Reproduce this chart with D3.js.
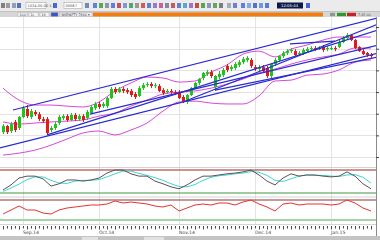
<!DOCTYPE html>
<html>
<head>
<meta charset="utf-8">
<title>chart</title>
<script src="https://d3js.org/d3.v7.min.js"></script>
<style>
  body { margin: 0; background: #fff; }
  svg { display: block; font-family: "DejaVu Sans", sans-serif; }
</style>
</head>
<body>
<div id="chart"></div>
<script>
// daily candles (price)
const opens = [
  7515, 7543, 7520, 7562, 7534, 7585, 7622, 7585, 7608, 7598,
  7575, 7575, 7525, 7534, 7557, 7580, 7589, 7571, 7594, 7575,
  7589, 7580, 7603, 7626, 7645, 7635, 7635, 7672, 7714, 7700,
  7714, 7709, 7705, 7691, 7682, 7718, 7732, 7737, 7728, 7728,
  7709, 7700, 7705, 7700, 7700, 7677, 7654, 7686, 7718, 7742,
  7765, 7783, 7792, 7723, 7769, 7778, 7820, 7806, 7811, 7825,
  7838, 7848, 7848, 7815, 7806, 7815, 7811, 7774, 7829, 7848,
  7866, 7880, 7889, 7889, 7875, 7880, 7889, 7898, 7903, 7898,
  7908, 7898, 7898, 7903, 7908, 7931, 7949, 7963, 7940, 7908,
  7889, 7880, 7871]
const highs = [
  7552, 7548, 7562, 7571, 7589, 7635, 7640, 7622, 7617, 7608,
  7585, 7585, 7543, 7562, 7594, 7598, 7598, 7603, 7603, 7598,
  7598, 7617, 7640, 7654, 7654, 7654, 7677, 7723, 7723, 7723,
  7723, 7718, 7714, 7700, 7728, 7742, 7746, 7746, 7742, 7737,
  7718, 7714, 7714, 7709, 7709, 7686, 7691, 7723, 7746, 7765,
  7792, 7802, 7802, 7778, 7797, 7811, 7829, 7825, 7838, 7848,
  7862, 7866, 7857, 7825, 7825, 7825, 7820, 7834, 7857, 7871,
  7889, 7898, 7903, 7898, 7889, 7903, 7908, 7912, 7912, 7912,
  7917, 7912, 7912, 7912, 7940, 7958, 7972, 7968, 7945, 7912,
  7898, 7885, 7880]
const lows = [
  7506, 7506, 7511, 7515, 7525, 7580, 7580, 7575, 7589, 7566,
  7557, 7502, 7515, 7525, 7548, 7571, 7562, 7566, 7566, 7566,
  7562, 7571, 7598, 7617, 7622, 7626, 7626, 7668, 7691, 7695,
  7695, 7691, 7677, 7668, 7677, 7709, 7723, 7718, 7718, 7700,
  7686, 7691, 7691, 7686, 7668, 7649, 7645, 7682, 7714, 7732,
  7755, 7774, 7765, 7705, 7760, 7769, 7792, 7797, 7802, 7815,
  7829, 7838, 7811, 7797, 7797, 7788, 7765, 7765, 7820, 7838,
  7857, 7871, 7880, 7866, 7866, 7871, 7880, 7889, 7889, 7894,
  7885, 7889, 7894, 7889, 7903, 7926, 7940, 7935, 7898, 7885,
  7871, 7862, 7857]
const closes = [
  7543, 7515, 7552, 7525, 7585, 7626, 7589, 7612, 7598, 7575,
  7566, 7511, 7534, 7552, 7585, 7589, 7571, 7594, 7575, 7589,
  7571, 7608, 7631, 7645, 7631, 7645, 7672, 7714, 7700, 7714,
  7705, 7700, 7686, 7677, 7718, 7732, 7737, 7728, 7732, 7705,
  7695, 7705, 7700, 7695, 7672, 7658, 7686, 7718, 7742, 7760,
  7788, 7792, 7774, 7774, 7783, 7802, 7802, 7815, 7829, 7838,
  7852, 7857, 7820, 7806, 7815, 7797, 7774, 7829, 7848, 7866,
  7880, 7889, 7894, 7871, 7880, 7894, 7898, 7903, 7898, 7903,
  7894, 7903, 7903, 7898, 7931, 7949, 7963, 7940, 7903, 7889,
  7875, 7871, 7866]

// bollinger bands, read every 4th candle
const bandIdx = [0, 4, 8, 12, 16, 20, 24, 28, 32, 36, 40, 44, 48, 52, 56, 60, 64, 68, 72, 76, 80, 84, 88, 92]
const bandUpper = [7718, 7663, 7640, 7640, 7635, 7631, 7654, 7705, 7742, 7769, 7765, 7746, 7751, 7792, 7825, 7875, 7889, 7862, 7898, 7917, 7940, 7954, 7954, 7954]
const bandMid = [7562, 7552, 7557, 7562, 7566, 7571, 7589, 7603, 7635, 7663, 7691, 7700, 7705, 7718, 7737, 7760, 7788, 7806, 7829, 7848, 7862, 7875, 7903, 7903]
const bandLower = [7409, 7418, 7432, 7455, 7483, 7511, 7520, 7502, 7525, 7557, 7612, 7654, 7658, 7649, 7645, 7645, 7682, 7751, 7755, 7778, 7783, 7802, 7838, 7848]

// hand drawn trend lines: [candle1, price1, candle2, price2]
const trendLines = [
  [2.5, 7617, 93.75, 8042],
  [-0.75, 7442, 93.75, 7880],
  [11, 7502, 93.75, 7986],
  [21.75, 7598, 93.75, 7917],
  [45, 7654, 93.75, 8014],
  [53, 7709, 93.75, 7862],
  [71.75, 7922, 83, 7935]
]

// oscillators, read every 2nd candle
const oscIdx = d3.range(0, 93, 2)
const stochK = [28, 41, 59, 64, 64, 57, 38, 44, 54, 54, 51, 54, 59, 72, 80, 80, 70, 64, 64, 51, 44, 36, 31, 41, 54, 64, 64, 67, 70, 72, 75, 80, 67, 51, 41, 59, 70, 64, 67, 67, 64, 62, 64, 75, 64, 44, 31]
const stochD = [24, 33, 43, 55, 62, 62, 53, 46, 45, 51, 53, 53, 55, 62, 70, 77, 77, 71, 66, 60, 53, 44, 37, 36, 42, 53, 61, 65, 67, 70, 72, 76, 74, 66, 53, 50, 57, 64, 67, 66, 66, 64, 63, 67, 68, 61, 46]
const rsi = [42, 50, 58, 50, 50, 44, 42, 50, 54, 56, 58, 60, 60, 62, 68, 64, 66, 64, 62, 58, 56, 60, 48, 54, 60, 62, 60, 64, 64, 60, 66, 70, 62, 56, 48, 62, 64, 60, 62, 62, 62, 60, 62, 70, 64, 54, 48]
const stochLevels = [20, 80]
const rsiLevels = [30, 70]

const priceTicks = [7400, 7500, 7600, 7700, 7800, 7900, 8000]
const monthIdx = [5, 24, 44, 63, 82]
const monthLabels = ['Sep.14', 'Oct.14', 'Nov.14', 'Dec.14', 'Jan.15']

const W = 380, H = 240
const plotR = 376
const mainTop = 17, mainBot = 167
const stTop = 167, stBot = 196.5
const rsTop = 197, rsBot = 224

const svg = d3.select('#chart').append('svg').attr('width', W).attr('height', H)

const x = d3.scaleLinear().domain([0, 92]).range([3, 371])
const y = d3.scaleLinear().domain([7354, 8051]).range([167, 16])
const yS = d3.scaleLinear().domain([20, 80]).range([193, 170])
const yR = d3.scaleLinear().domain([30, 70]).range([220, 200])

// ---- toolbar ----
svg.append('rect').attr('width', W).attr('height', 12).attr('fill', '#ebebeb')
svg.append('line').attr('x1', 0).attr('x2', W).attr('y1', 11.5).attr('y2', 11.5).attr('stroke', '#c2c2c2')
const tb = svg.append('g')
;[[1, '#6d6d6d'], [6, '#8e8e8e'], [12, '#7e8fb8'], [17, '#3a5cc4'], [53, '#2f55d0'], [85, '#5a7ab0'],
  [93, '#4a6fd0'], [99, '#3aa03a'], [105, '#7a8aa0'], [111, '#4a6ad8'], [117, '#c03a3a'], [123, '#6a8ad0'],
  [129, '#3a9a5a'], [135, '#8a8a8a'], [141, '#d04040'], [147, '#4a70c8'], [153, '#8a6ac0'], [159, '#c04a8a'],
  [165, '#6a7a9a'], [171, '#c04040'], [177, '#4a6ad0'], [183, '#3aa0c0'], [189, '#9a5ac8'], [195, '#c03030'],
  [201, '#3a9a3a'], [207, '#7a8ab0'], [213, '#4a9a4a'], [219, '#6a6a6a'], [227, '#9aa0b0'], [233, '#5a6ad0'],
  [241, '#4a6ad8'], [247, '#6aa0e0'], [253, '#3a5ad0'], [259, '#5a8ae0'], [265, '#3a6ad8'], [306, '#2a4ad0']]
  .forEach(d => {
    tb.append('rect').attr('x', d[0]).attr('y', 3).attr('width', 4).attr('height', 5).attr('fill', d[1]).attr('opacity', 0.85)
  })
;[[26, 20], [64, 18]].forEach(d => {
  tb.append('rect').attr('x', d[0]).attr('y', 2.5).attr('width', d[1]).attr('height', 6)
    .attr('fill', '#fff').attr('stroke', '#9a9a9a').attr('stroke-width', 0.5)
  tb.append('text').attr('x', d[0] + 1.5).attr('y', 7).attr('font-size', 3.6).attr('fill', '#555').text(d[0] < 50 ? '1024.00.00 1:1' : '00067')
})
tb.append('rect').attr('x', 277).attr('y', 2.5).attr('width', 26).attr('height', 6).attr('fill', '#0c1a4a')
tb.append('text').attr('x', 281).attr('y', 7).attr('font-size', 3.8).attr('fill', '#fff').text('12:05:44')

// tab row with orange bar
svg.append('rect').attr('y', 12).attr('width', W).attr('height', 5).attr('fill', '#d6d6d6')
;[[18, 9, '#f4f4f4', '100'], [29, 9, '#f4f4f4', '1L'], [40, 9, '#f4f4f4', '1X'], [51, 7, '#3a55c8', ''], [60, 32, '#ececf2', 'NSENIFTY 7866  ▾']]
  .forEach(d => {
    svg.append('rect').attr('x', d[0]).attr('y', 12.5).attr('width', d[1]).attr('height', 4).attr('fill', d[2])
      .attr('stroke', '#a8a8a8').attr('stroke-width', 0.4)
    svg.append('text').attr('x', d[0] + 1.5).attr('y', 15.8).attr('font-size', 3.3).attr('fill', '#444').text(d[3])
  })
svg.append('rect').attr('x', 93).attr('y', 12.5).attr('width', 230).attr('height', 4).attr('fill', '#f07c14')
svg.append('rect').attr('x', 330).attr('y', 12.8).attr('width', 5).attr('height', 3.4).attr('fill', '#8a9a8a')
svg.append('rect').attr('x', 337).attr('y', 12.8).attr('width', 9).attr('height', 3.4).attr('fill', '#2e9a2e')
svg.append('rect').attr('x', 347).attr('y', 12.8).attr('width', 9).attr('height', 3.4).attr('fill', '#c42424')
svg.append('text').attr('x', 358).attr('y', 15.8).attr('font-size', 3.3).attr('fill', '#555').text('7.45 00.')

// ---- grid ----
const grid = svg.append('g')
grid.selectAll('line.h').data(priceTicks).enter().append('line')
  .attr('x1', 0).attr('x2', plotR)
  .attr('y1', d => Math.round(y(d)) + 0.5).attr('y2', d => Math.round(y(d)) + 0.5)
  .attr('stroke', '#e3e3e3')
grid.selectAll('line.v').data(monthIdx).enter().append('line')
  .attr('x1', d => Math.round(x(d)) + 0.5).attr('x2', d => Math.round(x(d)) + 0.5)
  .attr('y1', mainTop).attr('y2', rsBot)
  .attr('stroke', '#e3e3e3')

// ---- main price panel ----
svg.append('clipPath').attr('id', 'mainClip').append('rect')
  .attr('x', 0).attr('y', mainTop).attr('width', plotR).attr('height', mainBot - mainTop)
const main = svg.append('g').attr('clip-path', 'url(#mainClip)')

const bandLine = arr => d3.line().x((d, k) => x(bandIdx[k])).y(d => y(d)).curve(d3.curveMonotoneX)(arr)
;[bandUpper, bandMid, bandLower].forEach(arr => {
  main.append('path').attr('d', bandLine(arr)).attr('fill', 'none').attr('stroke', '#d84ad8').attr('stroke-width', 1)
})

const candles = closes.map((c, i) => ({ i: i, o: opens[i], h: highs[i], l: lows[i], c: c }))
const up = '#1cc41c', down = '#e21a1a'
main.selectAll('line.wick').data(candles).enter().append('line')
  .attr('x1', d => Math.round(x(d.i)) + 0.5).attr('x2', d => Math.round(x(d.i)) + 0.5)
  .attr('y1', d => y(d.h)).attr('y2', d => y(d.l))
  .attr('stroke', d => d.c >= d.o ? up : down)
main.selectAll('rect.body').data(candles).enter().append('rect')
  .attr('x', d => Math.round(x(d.i)) - 1)
  .attr('width', 3)
  .attr('y', d => y(Math.max(d.o, d.c)))
  .attr('height', d => Math.max(1, Math.abs(y(d.o) - y(d.c))))
  .attr('fill', d => d.c >= d.o ? up : down)

main.selectAll('line.trend').data(trendLines).enter().append('line')
  .attr('x1', d => x(d[0])).attr('y1', d => y(d[1]))
  .attr('x2', d => x(d[2])).attr('y2', d => y(d[3]))
  .attr('stroke', '#2a2ad0').attr('stroke-width', 1.2)

// ---- panel separators ----
;[mainBot, stBot, rsBot].forEach(v => {
  svg.append('line').attr('x1', 0).attr('x2', plotR).attr('y1', v + 0.5).attr('y2', v + 0.5).attr('stroke', '#c8c8c8').attr('stroke-width', 0.8)
})

// ---- stochastic ----
svg.append('clipPath').attr('id', 'stClip').append('rect')
  .attr('x', 0).attr('y', stTop).attr('width', plotR).attr('height', stBot - stTop)
const st = svg.append('g').attr('clip-path', 'url(#stClip)')
st.append('line').attr('x1', 0).attr('x2', plotR).attr('y1', yS(stochLevels[1])).attr('y2', yS(stochLevels[1]))
  .attr('stroke', '#bd6e6e').attr('stroke-width', 1.4)
st.append('line').attr('x1', 0).attr('x2', plotR).attr('y1', yS(stochLevels[0])).attr('y2', yS(stochLevels[0]))
  .attr('stroke', '#3f9a3f').attr('stroke-width', 1.1)
const oscLine = (arr, sc) => d3.line().x((d, k) => x(oscIdx[k])).y(d => sc(d))(arr)
st.append('path').attr('d', oscLine(stochD, yS)).attr('fill', 'none').attr('stroke', '#3cd6d6').attr('stroke-width', 1)
st.append('path').attr('d', oscLine(stochK, yS)).attr('fill', 'none').attr('stroke', '#5e5252').attr('stroke-width', 1)

// ---- rsi ----
svg.append('clipPath').attr('id', 'rsClip').append('rect')
  .attr('x', 0).attr('y', rsTop).attr('width', plotR).attr('height', rsBot - rsTop)
const rs = svg.append('g').attr('clip-path', 'url(#rsClip)')
rs.append('line').attr('x1', 0).attr('x2', plotR).attr('y1', yR(rsiLevels[1])).attr('y2', yR(rsiLevels[1]))
  .attr('stroke', '#8e3434').attr('stroke-width', 1.2)
rs.append('line').attr('x1', 0).attr('x2', plotR).attr('y1', yR(rsiLevels[0])).attr('y2', yR(rsiLevels[0]))
  .attr('stroke', '#a6d4a6').attr('stroke-width', 2)
rs.append('path').attr('d', oscLine(rsi, yR)).attr('fill', 'none').attr('stroke', '#e23434').attr('stroke-width', 1)

// ---- right price axis (labels fall outside the window, only ticks show) ----
svg.append('line').attr('x1', plotR + 0.5).attr('x2', plotR + 0.5).attr('y1', mainTop).attr('y2', 236).attr('stroke', '#8a8a8a')
svg.append('g').attr('transform', 'translate(' + plotR + ',0)')
  .call(d3.axisRight(y).tickValues(priceTicks).tickSize(3).tickFormat(''))
  .call(g => g.select('.domain').remove())
  .call(g => g.selectAll('line').attr('stroke', '#444'))

// ---- date axis ----
const ax = svg.append('g')
ax.selectAll('line').data(closes.map((c, i) => i)).enter().append('line')
  .attr('x1', d => Math.round(x(d)) + 0.5).attr('x2', d => Math.round(x(d)) + 0.5)
  .attr('y1', 226).attr('y2', d => d % 2 ? 228.5 : 229.5)
  .attr('stroke', '#3a3a3a').attr('stroke-width', 0.9)
ax.selectAll('text').data(monthIdx).enter().append('text')
  .attr('x', d => x(d)).attr('y', 234.2)
  .attr('font-size', 4.6).attr('fill', '#444')
  .text((d, k) => monthLabels[k])

// status bar
svg.append('rect').attr('y', 236).attr('width', W).attr('height', 4).attr('fill', '#c4c4c4')
svg.append('rect').attr('x', 82).attr('y', 237).attr('width', 16).attr('height', 3).attr('fill', '#e2e2e2')
svg.append('rect').attr('x', 144).attr('y', 237).attr('width', 20).attr('height', 3).attr('fill', '#e2e2e2')
</script>
</body>
</html>
